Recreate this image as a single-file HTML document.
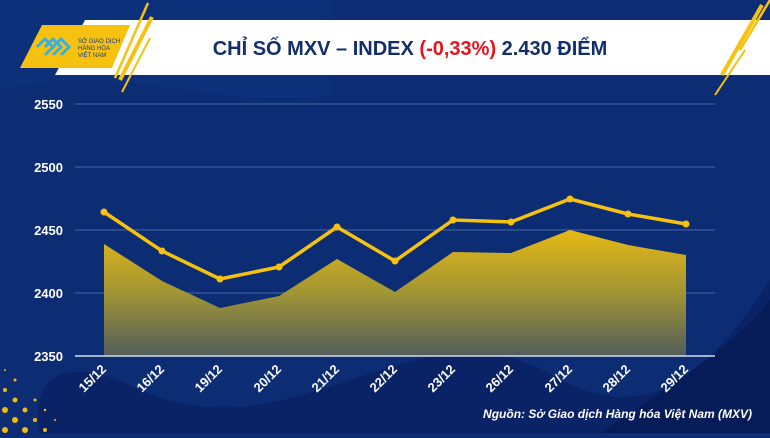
<!DOCTYPE html>
<html><head><meta charset="utf-8"><style>
body{margin:0;width:770px;height:433px;overflow:hidden;background:#0c2c74;font-family:"Liberation Sans",sans-serif}
</style></head><body>
<svg width="770" height="433" viewBox="0 0 770 433" xmlns="http://www.w3.org/2000/svg">
<defs>
<linearGradient id="ag" x1="0" y1="0" x2="0" y2="1">
<stop offset="0" stop-color="#f2c010"/><stop offset="0.5" stop-color="#a89a30"/><stop offset="1" stop-color="#55605a"/>
</linearGradient>
</defs>
<rect width="770" height="433" fill="#0c2c74"/>
<path d="M0 90 C120 60 200 110 330 95 L330 0 L0 0Z" fill="#0f3380" opacity="0.6"/>
<path d="M40 433 C30 380 60 350 140 390 C300 460 420 290 560 380 C640 420 700 390 770 280 L770 433Z" fill="#0a2366"/>
<path d="M600 433 C680 380 740 340 770 300 L770 433Z" fill="#061c58"/>
<g fill="#f5b90c">
<circle cx="5" cy="370" r="1"/><circle cx="15" cy="380" r="1.5"/><circle cx="5" cy="390" r="2"/><circle cx="15" cy="400" r="2.5"/><circle cx="5" cy="410" r="3"/><circle cx="25" cy="410" r="2.5"/><circle cx="15" cy="420" r="3"/><circle cx="35" cy="420" r="2"/><circle cx="5" cy="430" r="3"/><circle cx="25" cy="430" r="3"/><circle cx="45" cy="430" r="2"/><circle cx="35" cy="400" r="1.5"/><circle cx="45" cy="410" r="1.2"/><circle cx="55" cy="420" r="1"/>
</g>
<polygon points="85,20 770,20 770,75 55,75" fill="#ffffff"/>
<polygon points="42,25 130,25 112,68 20,68" fill="#f6c20f"/>
<line x1="148" y1="3" x2="115" y2="78" stroke="#f6c20f" stroke-width="2.5"/>
<line x1="152" y1="17" x2="120" y2="80" stroke="#f6c20f" stroke-width="4"/>
<line x1="150" y1="38" x2="122" y2="92" stroke="#f6c20f" stroke-width="2"/>
<line x1="770" y1="0" x2="740" y2="50" stroke="#f6c20f" stroke-width="2.5"/>
<line x1="762" y1="5" x2="722" y2="75" stroke="#f6c20f" stroke-width="4"/>
<line x1="745" y1="50" x2="715" y2="95" stroke="#f6c20f" stroke-width="2"/>
<g fill="none" stroke="#3ab0e0" stroke-width="3">
<path d="M37 47 L45 39 L53 47 L45 55"/><path d="M45 47 L53 39 L61 47 L53 55"/><path d="M53 47 L61 39 L69 47 L61 55"/>
</g>
<text x="78" y="43" font-size="6" fill="#1d3a7a">SỞ GIAO DỊCH</text>
<text x="78" y="50" font-size="6" fill="#1d3a7a">HÀNG HÓA</text>
<text x="78" y="57" font-size="6" fill="#1d3a7a">VIỆT NAM</text>
<text x="410" y="55" text-anchor="middle" font-size="20" font-weight="bold" fill="#132e6c">CHỈ SỐ MXV – INDEX <tspan fill="#e8141b">(-0,33%)</tspan> 2.430 ĐIỂM</text>
<g stroke="#4a66a6" stroke-width="1">
<line x1="75" y1="104" x2="715" y2="104"/><line x1="75" y1="167" x2="715" y2="167"/><line x1="75" y1="230" x2="715" y2="230"/><line x1="75" y1="293" x2="715" y2="293"/>
</g>
<g font-size="13" font-weight="bold" fill="#fff" text-anchor="end">
<text x="63" y="109">2550</text><text x="63" y="172">2500</text><text x="63" y="235">2450</text><text x="63" y="298">2400</text><text x="63" y="361">2350</text>
</g>
<polygon points="104,244 162,281 220,308 279,296 337,259 395,292 453,252 511,253 570,230 628,245 686,255 686,356 104,356" fill="url(#ag)" opacity="0.95"/>
<line x1="75" y1="356" x2="715" y2="356" stroke="#d8dce8" stroke-width="1.5"/>
<polyline points="104,212 162,251 220,279 279,267 337,227 395,261 453,220 511,222 570,199 628,214 686,224" fill="none" stroke="#f6c20f" stroke-width="3.5"/>
<g fill="#f6c20f">
<circle cx="104" cy="212" r="3.5"/><circle cx="162" cy="251" r="3.5"/><circle cx="220" cy="279" r="3.5"/><circle cx="279" cy="267" r="3.5"/><circle cx="337" cy="227" r="3.5"/><circle cx="395" cy="261" r="3.5"/><circle cx="453" cy="220" r="3.5"/><circle cx="511" cy="222" r="3.5"/><circle cx="570" cy="199" r="3.5"/><circle cx="628" cy="214" r="3.5"/><circle cx="686" cy="224" r="3.5"/>
</g>
<g font-size="13" font-weight="bold" fill="#fff">
<text transform="translate(84,393) rotate(-45)">15/12</text>
<text transform="translate(142,393) rotate(-45)">16/12</text>
<text transform="translate(200,393) rotate(-45)">19/12</text>
<text transform="translate(259,393) rotate(-45)">20/12</text>
<text transform="translate(317,393) rotate(-45)">21/12</text>
<text transform="translate(375,393) rotate(-45)">22/12</text>
<text transform="translate(433,393) rotate(-45)">23/12</text>
<text transform="translate(491,393) rotate(-45)">26/12</text>
<text transform="translate(550,393) rotate(-45)">27/12</text>
<text transform="translate(608,393) rotate(-45)">28/12</text>
<text transform="translate(666,393) rotate(-45)">29/12</text>
</g>
<text x="752" y="418" text-anchor="end" font-size="12" font-weight="bold" font-style="italic" fill="#fff">Nguồn: Sở Giao dịch Hàng hóa Việt Nam (MXV)</text>
</svg>
</body></html>
